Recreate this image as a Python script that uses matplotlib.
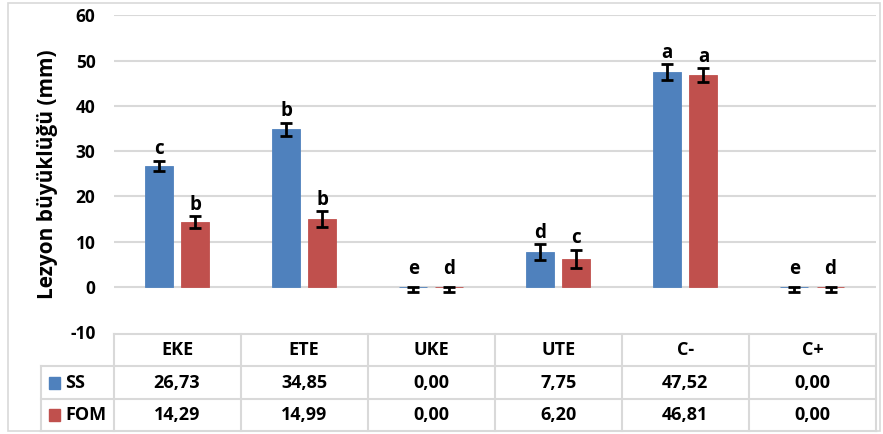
import matplotlib
matplotlib.use("Agg")
import matplotlib.pyplot as plt
from matplotlib.patches import Rectangle
from matplotlib.lines import Line2D
import numpy as np

plt.rcParams['font.family'] = ['Open Sans', 'DejaVu Sans']
plt.rcParams['font.weight'] = 'bold'
plt.rcParams['axes.unicode_minus'] = False

categories = ["EKE", "ETE", "UKE", "UTE", "C-", "C+"]
series_names = ["SS", "FOM"]
ss_values = [26.73, 34.85, 0.00, 7.75, 47.52, 0.00]
fom_values = [14.29, 14.99, 0.00, 6.20, 46.81, 0.00]
ss_err_lo = [1.2, 1.4, 1.1, 1.7, 1.7, 1.1]
ss_err_hi = [1.2, 1.4, 0.0, 1.7, 1.7, 0.0]
fom_err_lo = [1.3, 1.7, 1.1, 2.0, 1.5, 1.1]
fom_err_hi = [1.3, 1.7, 0.0, 2.0, 1.5, 0.0]
ss_letters = ["c", "b", "e", "d", "a", "e"]
fom_letters = ["b", "b", "d", "c", "a", "d"]
y_ticks = [-10, 0, 10, 20, 30, 40, 50, 60]

colors = ["#4F81BD", "#C0504D"]
grid_color = "#D9D9D9"

W, H = 883, 434
fig = plt.figure(figsize=(W / 100, H / 100), dpi=100)

def fx(px):
    return px / W

def fy(py):
    return 1 - py / H

# outer chart border
fig.add_artist(Rectangle((fx(8), fy(431)), fx(880) - fx(8), fy(3) - fy(431),
                         transform=fig.transFigure, fill=False,
                         edgecolor=grid_color, linewidth=1.2))

# plot area
left, right, top, bottom = 113.5, 876, 15.3, 332.3
ax = fig.add_axes([fx(left), fy(bottom), fx(right) - fx(left), fy(top) - fy(bottom)])
ax.set_xlim(0, len(categories))
ax.set_ylim(-10, 60)
for s in ax.spines.values():
    s.set_visible(False)
ax.set_xticks([])
ax.set_yticks(y_ticks)
ax.tick_params(axis='y', length=0, pad=13, labelsize=12.5)
for lab in ax.get_yticklabels():
    lab.set_fontweight('bold')
for t in y_ticks[1:]:
    ax.axhline(t, color=grid_color, linewidth=1.5, zorder=0)

x = np.arange(len(categories)) + 0.5
bw = 0.22
gap = 0.064
offsets = [-(bw + gap) / 2, (bw + gap) / 2]
all_vals = [ss_values, fom_values]
all_lo = [ss_err_lo, fom_err_lo]
all_hi = [ss_err_hi, fom_err_hi]
all_letters = [ss_letters, fom_letters]
for i in range(2):
    xs = x + offsets[i]
    ax.bar(xs, all_vals[i], width=bw, color=colors[i], zorder=2,
           edgecolor=colors[i], linewidth=0.6)
    ax.errorbar(xs, all_vals[i], yerr=[all_lo[i], all_hi[i]], fmt='none',
                ecolor='black', elinewidth=2, capsize=4, capthick=2, zorder=3)
    for xi, v, hi, lt in zip(xs, all_vals[i], all_hi[i], all_letters[i]):
        extra = 6 if v == 0 else 1
        ax.annotate(lt, (xi, v + hi), xytext=(0, extra), textcoords='offset points',
                    ha='center', va='bottom', fontsize=13.5, fontweight='bold', zorder=4)

ax.set_ylabel("Lezyon büyüklüğü (mm)", fontsize=15, fontweight='bold')
ax.yaxis.set_label_coords((58 - left) / (right - left), 0.5)

# data table below the plot
row_y = [333.5, 366, 399, 431]
col_x = [41, 113.5] + [113.5 + (876 - 113.5) * (k + 1) / 6 for k in range(6)]

def hline(y, x0, x1):
    fig.add_artist(Line2D([fx(x0), fx(x1)], [fy(y), fy(y)], transform=fig.transFigure,
                          color=grid_color, linewidth=1.5))

def vline(xp, y0, y1):
    fig.add_artist(Line2D([fx(xp), fx(xp)], [fy(y0), fy(y1)], transform=fig.transFigure,
                          color=grid_color, linewidth=1.5))

hline(row_y[0], col_x[1], col_x[-1])
for yy in row_y[1:]:
    hline(yy, col_x[0], col_x[-1])
vline(col_x[0], row_y[1], row_y[-1])
for xx in col_x[1:]:
    vline(xx, row_y[0], row_y[-1])

txt_kw = dict(fontsize=13, fontweight='bold', transform=fig.transFigure, va='center')
for k, cat in enumerate(categories):
    cx = (col_x[k + 1] + col_x[k + 2]) / 2
    fig.text(fx(cx), fy((row_y[0] + row_y[1]) / 2), cat, ha='center', **txt_kw)
    for r, vals in enumerate(all_vals):
        cy = (row_y[r + 1] + row_y[r + 2]) / 2
        fig.text(fx(cx), fy(cy), f"{vals[k]:.2f}".replace('.', ','), ha='center', **txt_kw)

for r, name in enumerate(series_names):
    cy = (row_y[r + 1] + row_y[r + 2]) / 2
    fig.add_artist(Rectangle((fx(49), fy(cy + 6)), fx(11), fy(0) - fy(12),
                             transform=fig.transFigure, color=colors[r]))
    fig.text(fx(65), fy(cy), name, ha='left', **txt_kw)

fig.savefig("out.png", dpi=100)
